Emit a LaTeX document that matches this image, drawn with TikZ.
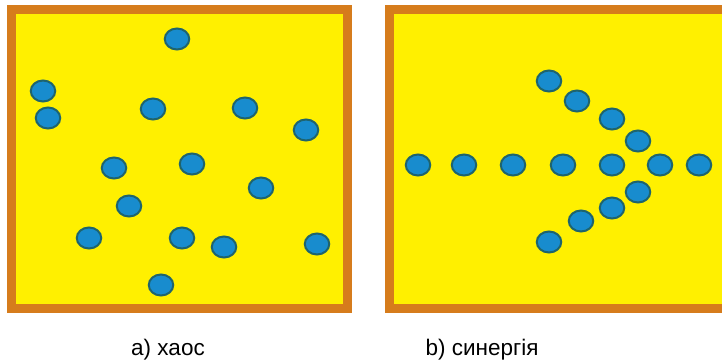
\documentclass[tikz,border=0pt]{standalone}
\usepackage{fontspec}
\setmainfont{Liberation Sans}
\usepackage{xcolor}
\usepackage{tikz}
\usetikzlibrary{shapes.geometric}

\definecolor{frameorange}{RGB}{214,124,28}
\definecolor{fieldyellow}{RGB}{255,240,0}
\definecolor{particleblue}{RGB}{24,140,206}
\definecolor{particleedge}{RGB}{30,100,110}

\tikzset{
  field/.style={draw=frameorange, line width=9pt, fill=fieldyellow},
  particle/.style={ellipse, draw=particleedge, line width=2pt, fill=particleblue,
    minimum width=24.5pt, minimum height=21pt, inner sep=0pt},
  caption/.style={anchor=base, font=\fontsize{22.5}{26}\selectfont}
}

\begin{document}
\begin{tikzpicture}[x=1pt, y=-1pt]
  \useasboundingbox (0,0) rectangle (722,361);
  \begin{scope}
    \clip (0,0) rectangle (722,361);
    \draw[field] (11.5,9.5) rectangle (347.5,308.5);
    \draw[field] (389.5,9.5) rectangle (732,308.5);
  \end{scope}

  % chaos
  \foreach \px/\py [count=\i] in {177/39, 43/91, 48/118, 153/109, 245/108, 306/130,
      114/168, 192/164, 261/188, 129/206, 89/238, 182/238, 224/247, 317/244, 161/285}
    \node[particle] (a\i) at (\px,\py) {};

  % synergy
  \foreach \px/\py [count=\i] in {549/81, 577/101, 612/119, 638/141,
      418/165, 464/165, 513/165, 563/165, 612/165, 660/165, 699/165,
      638/192, 612/208, 581/221, 549/242}
    \node[particle] (b\i) at (\px,\py) {};

  \node[caption] (capa) at (168,355) {a) хаос};
  \node[caption] (capb) at (482,355) {b) синергія};
\end{tikzpicture}
\end{document}
